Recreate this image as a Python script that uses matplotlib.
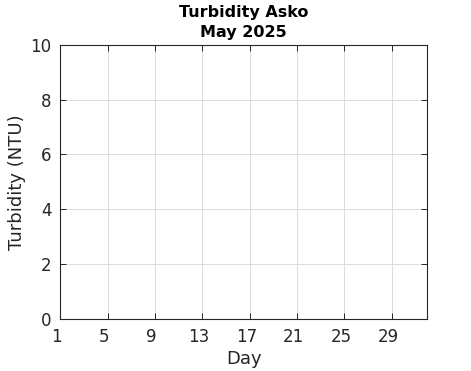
import matplotlib
matplotlib.use("Agg")
import matplotlib.pyplot as plt
import matplotlib.transforms as mtransforms

title_lines = ["Turbidity Asko", "May 2025"]
x_ticks = [1, 5, 9, 13, 17, 21, 25, 29]
y_ticks = [0, 2, 4, 6, 8, 10]
x_limits = [1, 32]
y_limits = [0, 10]
days = []
turbidity = []

plt.rcParams['font.family'] = ['DejaVu Sans']
fig = plt.figure(figsize=(4.71, 3.71), dpi=100)
W, H = 471, 371
ax = fig.add_axes([60.3 / W, (H - 318.5) / H, (427.3 - 60.3) / W, (318.5 - 45) / H])
ax.plot(days, turbidity, color='#0072BD')
ax.set_xlim(x_limits)
ax.set_ylim(y_limits)
ax.set_xticks(x_ticks)
ax.set_yticks(y_ticks)
ax.grid(True, color='#dcdcdc', linewidth=0.7)
ax.set_axisbelow(True)
ax.tick_params(direction='in', top=True, right=True, length=4, width=0.7,
               labelsize=12, colors='#262626')
ax.tick_params(axis='x', pad=6.8)
ax.tick_params(axis='y', pad=6.2)
shift = mtransforms.ScaledTranslation(-3.5 / 100, 0, fig.dpi_scale_trans)
for lbl in ax.get_xticklabels():
    lbl.set_transform(lbl.get_transform() + shift)
for s in ax.spines.values():
    s.set_color('#262626')
    s.set_linewidth(0.8)
ax.set_xlabel('Day', fontsize=13, color='#262626', labelpad=3)
ax.set_ylabel('Turbidity (NTU)', fontsize=13, color='#262626', labelpad=3)
ax.set_title("\n".join(title_lines), fontsize=11.5, fontweight='bold', color='black',
             linespacing=1.35, pad=6)
fig.savefig('out.png', dpi=100)
